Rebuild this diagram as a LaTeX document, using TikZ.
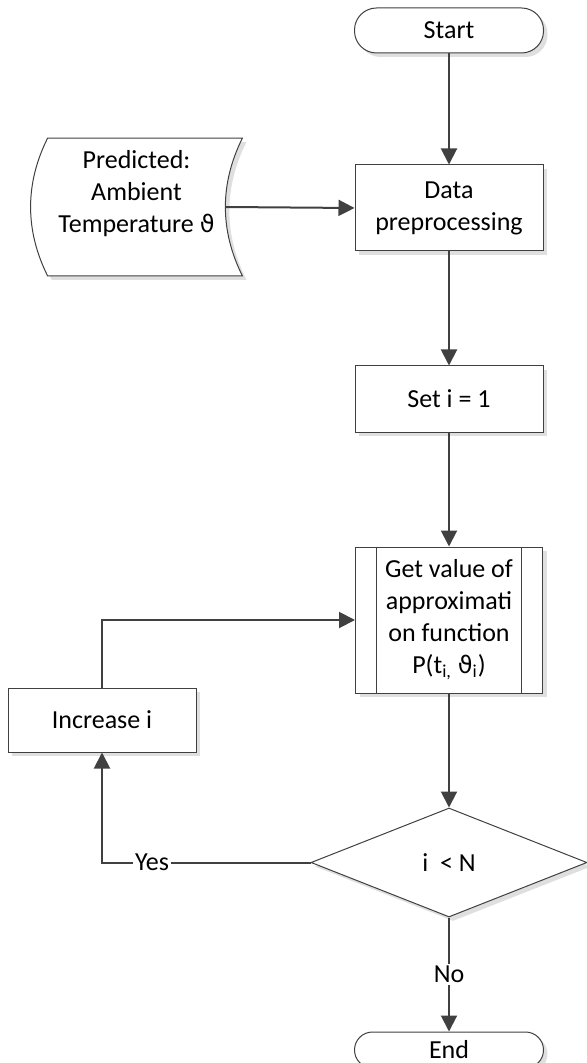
\documentclass[tikz,border=0pt]{standalone}
\usepackage{fontspec}
\setmainfont{Carlito}
\newfontfamily\grk[Scale=0.92]{DejaVu Sans}
\usepackage{tikz}
\usetikzlibrary{arrows.meta}
\usetikzlibrary{positioning, shapes.geometric, shadows, backgrounds}
\definecolor{linegray}{HTML}{404040}

\begin{document}
\begin{tikzpicture}[
        font=\fontsize{13}{16}\selectfont,
        softshadow/.style={drop shadow={shadow xshift=2pt, shadow yshift=-2pt, fill=black!25, opacity=0.5}},
        box/.style={draw=linegray, line width=0.5pt, fill=white, align=center, inner sep=2pt, minimum width=94pt, softshadow},
        term/.style={box, rounded corners=11pt, minimum width=94.5pt, minimum height=22.5pt},
        flow/.style={draw=linegray, line width=1pt, -{Triangle[length=8pt, width=8pt]}},
        lbl/.style={fill=white, inner sep=1pt},
        node distance=57pt
    ]
        \useasboundingbox (0,0) rectangle (293.5pt,-531.5pt);
        % 主流程
        \node[term] (start) at (224.5pt,-15.25pt) {Start};
        \node[box, minimum height=43pt, below=55.5pt of start] (prep) {Data\\preprocessing};
        \node[box, minimum height=33pt, below=of prep] (seti) {Set i = 1};
        \node[box, minimum width=93.5pt, minimum height=73pt, below=of seti] (getval) {Get value of\\approximati\\on function\\P(t\textsubscript{i,} {\grk ϑ}\textsubscript{i})};
        \node[diamond, draw=linegray, line width=0.5pt, fill=white, aspect=2.5, inner sep=0pt,
            minimum width=138pt, minimum height=54.5pt, softshadow, below=of getval] (check) {i~ < N};
        \node[term, rounded corners=9pt, minimum height=18pt, below=of check] (stop) {End};
        % 左侧节点
        \node[box, minimum height=32pt] (inc) at (51pt,-360pt) {Increase i};
        \node[align=center, minimum width=105.5pt, minimum height=68.5pt] (pred) at (68.25pt,-103.5pt) {Predicted:\\Ambient\\Temperature {\grk ϑ}\\~};
        \begin{scope}[on background layer]
            \draw[draw=linegray, line width=0.5pt, fill=white, softshadow]
                ([xshift=8.5pt]pred.north west) .. controls +(-11.35pt,-22.8pt) and +(-11.35pt,22.8pt) .. ([xshift=8.5pt]pred.south west)
                -- (pred.south east) .. controls +(-11.35pt,22.8pt) and +(-11.35pt,-22.8pt) .. (pred.north east) -- cycle;
        \end{scope}
        \coordinate (predout) at ([xshift=-8.5pt]pred.east);
        % 子程序框的竖线
        \draw[draw=linegray, line width=0.5pt]
            ([xshift=10.5pt]getval.north west) -- ([xshift=10.5pt]getval.south west)
            ([xshift=-11pt]getval.north east) -- ([xshift=-11pt]getval.south east);
        % 连线
        \draw[flow] (start) -- (prep);
        \draw[flow] (predout) -- (prep.west);
        \draw[flow] (prep) -- (seti);
        \draw[flow] (seti) -- (getval);
        \draw[flow] (getval) -- (check);
        \draw[flow] (check.west) -| node[lbl, pos=0.38] {Yes} (inc.south);
        \draw[flow] (inc.north) |- (getval.west);
        \draw[flow] (check) -- node[lbl] {No} (stop);
    \end{tikzpicture}
\end{document}
